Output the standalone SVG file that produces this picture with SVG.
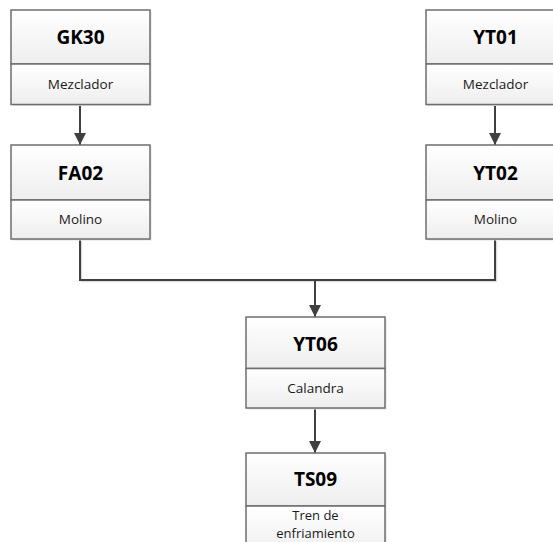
<svg xmlns="http://www.w3.org/2000/svg" width="553" height="542" viewBox="0 0 553 542">
  <defs>
    <linearGradient id="fillGrad" x1="0" y1="0" x2="0" y2="1">
      <stop offset="0" stop-color="#ffffff"/>
      <stop offset="1" stop-color="#eeeeee"/>
    </linearGradient>
    <marker id="arrow" viewBox="0 0 12 12" refX="12" refY="6" markerWidth="12" markerHeight="12" markerUnits="userSpaceOnUse" orient="auto">
      <path d="M0,0 L12,6 L0,12 Z" fill="#404040"/>
    </marker>
  </defs>
  <style>
    .shadow { fill: #e2e2e2; }
    .sect { fill: url(#fillGrad); stroke: #6e6e6e; stroke-width: 1.5; }
    .title { font-family: "Open Sans", "Liberation Sans", sans-serif; font-weight: bold; font-size: 19px; fill: #000000; text-anchor: middle; }
    .sub { font-family: "Open Sans", "Liberation Sans", sans-serif; font-size: 13.5px; fill: #1a1a1a; text-anchor: middle; }
    .sub2 { font-size: 13px; }
    .wire { fill: none; stroke: #404040; stroke-width: 2; }
    .wire-shadow { fill: none; stroke: #dddddd; stroke-width: 1.5; }
  </style>
  <rect width="553" height="542" fill="#ffffff"/>

  <!-- connectors -->
  <g id="connectors">
    <path class="wire-shadow" d="M81.5,241 V281.5 H496.5 V241"/>
    <line class="wire" x1="80" y1="104" x2="80" y2="145" marker-end="url(#arrow)"/>
    <line class="wire" x1="495" y1="104" x2="495" y2="145" marker-end="url(#arrow)"/>
    <path class="wire" d="M80,239 V280 H495 V239"/>
    <line class="wire" x1="315" y1="280" x2="315" y2="317" marker-end="url(#arrow)"/>
    <line class="wire" x1="315" y1="408" x2="315" y2="453" marker-end="url(#arrow)"/>
  </g>

  <!-- GK30 -->
  <g id="GK30">
    <rect class="shadow" x="12.5" y="11.5" width="139" height="94.5"/>
    <rect class="sect" x="11" y="10" width="139" height="54"/>
    <rect class="sect" x="11" y="64" width="139" height="40.5"/>
    <text class="title" x="80.5" y="44">GK30</text>
    <text class="sub" x="80.5" y="88.5">Mezclador</text>
  </g>

  <!-- FA02 -->
  <g id="FA02">
    <rect class="shadow" x="12.5" y="146.5" width="139" height="94"/>
    <rect class="sect" x="11" y="145" width="139" height="55"/>
    <rect class="sect" x="11" y="200" width="139" height="39"/>
    <text class="title" x="80.5" y="180">FA02</text>
    <text class="sub" x="80.5" y="224">Molino</text>
  </g>

  <!-- YT01 -->
  <g id="YT01">
    <rect class="shadow" x="427.5" y="11.5" width="139" height="94.5"/>
    <rect class="sect" x="426" y="10" width="139" height="54"/>
    <rect class="sect" x="426" y="64" width="139" height="40.5"/>
    <text class="title" x="495.5" y="44">YT01</text>
    <text class="sub" x="495.5" y="88.5">Mezclador</text>
  </g>

  <!-- YT02 -->
  <g id="YT02">
    <rect class="shadow" x="427.5" y="146.5" width="139" height="94"/>
    <rect class="sect" x="426" y="145" width="139" height="55"/>
    <rect class="sect" x="426" y="200" width="139" height="39"/>
    <text class="title" x="495.5" y="180">YT02</text>
    <text class="sub" x="495.5" y="224">Molino</text>
  </g>

  <!-- YT06 -->
  <g id="YT06">
    <rect class="shadow" x="247.5" y="318.5" width="139" height="91"/>
    <rect class="sect" x="246" y="317" width="139" height="51.5"/>
    <rect class="sect" x="246" y="368.5" width="139" height="39.5"/>
    <text class="title" x="315.5" y="351">YT06</text>
    <text class="sub" x="315.5" y="393">Calandra</text>
  </g>

  <!-- TS09 -->
  <g id="TS09">
    <rect class="shadow" x="247.5" y="454.5" width="139" height="100"/>
    <rect class="sect" x="246" y="453" width="139" height="53"/>
    <rect class="sect" x="246" y="506" width="139" height="50"/>
    <text class="title" x="315.5" y="486">TS09</text>
    <text class="sub sub2" x="315.5" y="520">Tren de</text>
    <text class="sub sub2" x="315.5" y="538">enfriamiento</text>
  </g>
</svg>
